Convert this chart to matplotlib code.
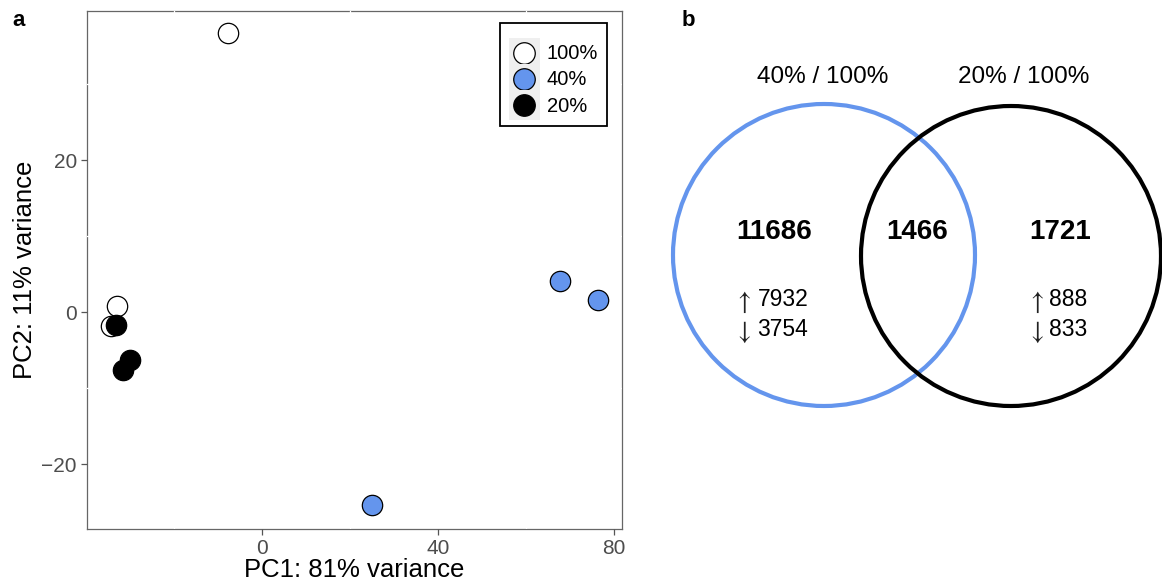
import matplotlib
matplotlib.use("Agg")
import matplotlib.pyplot as plt
from matplotlib.patches import Rectangle, Circle
from matplotlib.lines import Line2D
from matplotlib.legend_handler import HandlerBase
from matplotlib.ticker import MultipleLocator

plt.rcParams['font.family'] = ['Liberation Sans', 'DejaVu Sans']

# ---------------- data ----------------
groups = ["100%", "40%", "20%"]
group_colors = ["white", "#6495ED", "black"]
pc1_100 = [-7.7, -33.0, -34.2]
pc2_100 = [36.7, 0.8, -1.8]
pc1_40 = [67.7, 76.4, 25.0]
pc2_40 = [4.1, 1.6, -25.4]
pc1_20 = [-33.2, -30.0, -31.5]
pc2_20 = [-1.7, -6.3, -7.6]
x_ticks = [0, 40, 80]
y_ticks = [-20, 0, 20]
x_label = "PC1: 81% variance"
y_label = "PC2: 11% variance"

venn_sets = ["40% / 100%", "20% / 100%"]
venn_counts = [11686, 1466, 1721]
venn_up = [7932, 888]
venn_down = [3754, 833]

# ---------------- figure ----------------
W, H = 1162, 580
fig = plt.figure(figsize=(W / 100, H / 100), dpi=100)

# panel a axes (pixel geometry)
axl, axr, axt, axb = 86.7, 622, 10.7, 529
ax = fig.add_axes([axl / W, 1 - axb / H, (axr - axl) / W, (axb - axt) / H])
ax.set_xlim(-39.8, 81.8)
ax.set_ylim(-28.55, 39.7)

ms_s = 215
xs = [pc1_100, pc1_40, pc1_20]
ys = [pc2_100, pc2_40, pc2_20]
for i in [0, 2, 1]:
    ax.scatter(xs[i], ys[i], s=ms_s, facecolor=group_colors[i], edgecolor="black",
               linewidth=0.9, zorder=3)

ax.set_xticks(x_ticks)
ax.set_yticks(y_ticks)
ax.xaxis.set_minor_locator(MultipleLocator(20))
ax.yaxis.set_minor_locator(MultipleLocator(10))
ax.tick_params(which="minor", length=0)
ax.tick_params(which="major", length=4, width=0.9, color="#555555",
               labelcolor="#4D4D4D", labelsize=15, pad=3)
ax.set_axisbelow(False)
ax.grid(which="minor", color="white", linewidth=0.9)
for sp in ax.spines.values():
    sp.set_color("#666666")
    sp.set_linewidth(0.9)
ax.set_xlabel(x_label, fontsize=18.5, labelpad=0)
ax.set_ylabel(y_label, fontsize=18.5, labelpad=3)


class KeyHandler(HandlerBase):
    def create_artists(self, legend, orig_handle, xdescent, ydescent, width, height,
                       fontsize, trans):
        side = max(width, height)
        x0 = -xdescent + (width - side) / 2
        y0 = -ydescent + (height - side) / 2
        sq = Rectangle((x0, y0), side, side, facecolor="#EFEFEF", edgecolor="none",
                       transform=trans)
        c = Line2D([-xdescent + width / 2], [-ydescent + height / 2], marker="o",
                   markersize=15.5, markerfacecolor=orig_handle.get_markerfacecolor(),
                   markeredgecolor="black", markeredgewidth=0.9, linestyle="none",
                   transform=trans)
        return [sq, c]


handles = [Line2D([], [], marker="o", linestyle="none", markerfacecolor=c,
                  markeredgecolor="black") for c in group_colors]
leg = ax.legend(handles, groups, handler_map={Line2D: KeyHandler()},
                loc="upper right", bbox_to_anchor=(607 / W, 1 - 22.7 / H),
                bbox_transform=fig.transFigure, fontsize=14.5, frameon=True,
                fancybox=False, edgecolor="black", framealpha=1,
                handlelength=1.5, handleheight=1.5, labelspacing=0.08,
                handletextpad=0.35, borderpad=0.45, borderaxespad=0,
                title=" ", title_fontsize=5)
leg.get_frame().set_linewidth(1.3)

fig.text(19 / W, 1 - 21 / H, "a", fontsize=16, fontweight="bold",
         ha="center", va="center")

# ---------------- panel b : Venn ----------------
bx0 = 650
axv = fig.add_axes([bx0 / W, 0, (W - bx0) / W, 1])
axv.set_xlim(bx0, W)
axv.set_ylim(H, 0)
axv.axis("off")

circ_centers = [(824, 255), (1011, 256)]
circ_r = [151, 150]
circ_colors = ["#6495ED", "black"]
for (cx, cy), r, col in zip(circ_centers, circ_r, circ_colors):
    axv.add_patch(Circle((cx, cy), r, fill=False, edgecolor=col, linewidth=3.0,
                         clip_on=False))

axv.text(822.5, 77, venn_sets[0], fontsize=17.5, ha="center", va="center")
axv.text(1024, 77, venn_sets[1], fontsize=17.5, ha="center", va="center")

count_x = [774.3, 916.8, 1059.7]
for cx_, n in zip(count_x, venn_counts):
    axv.text(cx_, 232, f"{n}", fontsize=20, fontweight="bold",
             ha="center", va="center")

arrow_x = [743, 1035.5]
num_x = [757.5, 1049.5]
for ax_, nx, u, d in zip(arrow_x, num_x, venn_up, venn_down):
    axv.text(ax_, 302, r"$\uparrow$", fontsize=19, math_fontfamily="stix",
             ha="center", va="center", color="#222222")
    axv.text(ax_, 332, r"$\downarrow$", fontsize=19, math_fontfamily="stix",
             ha="center", va="center", color="#222222")
    axv.text(nx, 300, f"{u}", fontsize=16.5, ha="left", va="center")
    axv.text(nx, 330, f"{d}", fontsize=16.5, ha="left", va="center")

fig.text(688 / W, 1 - 21 / H, "b", fontsize=16, fontweight="bold",
         ha="center", va="center")

fig.savefig("out.png", dpi=100)
